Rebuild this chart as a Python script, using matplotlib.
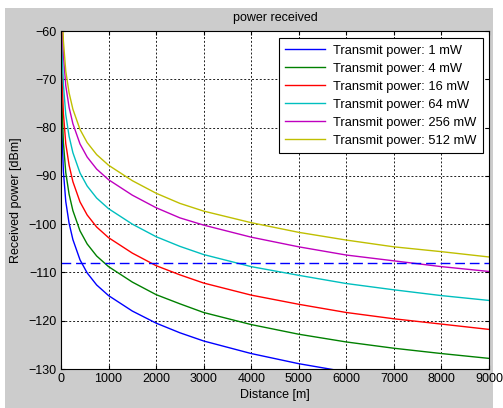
"""Received power vs distance for several transmit powers."""

import matplotlib

matplotlib.use("Agg")
import matplotlib.pyplot as plt
from matplotlib.patches import Rectangle

plt.rcParams["font.family"] = ["Liberation Sans", "DejaVu Sans"]

# distance samples [m]
distance = [10, 20, 50, 100, 170, 250, 400, 550, 750, 1000,
            1500, 2000, 2500, 3000, 4000, 5000, 6000, 7000, 8000, 9000]

# received power [dBm]
p_1mw = [-75, -81, -89, -95.3, -99.8, -103.2, -107.4, -110.1, -112.6, -114.8,
         -118.0, -120.5, -122.5, -124.2, -126.8, -128.9, -130.6, -132.0, -133.1, -134.1]
p_4mw = [-69, -75, -83, -89.3, -93.8, -97.2, -101.4, -104.1, -106.6, -108.8,
         -112.0, -114.6, -116.5, -118.3, -120.8, -122.8, -124.4, -125.7, -126.8, -127.8]
p_16mw = [-63, -69, -77, -83.3, -87.8, -91.2, -95.4, -98.1, -100.6, -102.8,
          -106.0, -108.6, -110.5, -112.2, -114.7, -116.6, -118.3, -119.6, -120.7, -121.8]
p_64mw = [-57, -63, -71, -77.3, -81.8, -85.2, -89.4, -92.1, -94.6, -96.8,
          -100.0, -102.6, -104.6, -106.3, -108.8, -110.6, -112.3, -113.6, -114.8, -115.8]
p_256mw = [-51, -57, -65, -71.3, -75.8, -79.2, -83.4, -86.1, -88.6, -90.8,
           -94.0, -96.6, -98.7, -100.2, -102.7, -104.7, -106.4, -107.6, -108.8, -109.8]
p_512mw = [-48, -54, -62, -68.3, -72.8, -76.2, -80.4, -83.1, -85.6, -87.8,
           -91.0, -93.6, -95.7, -97.3, -99.7, -101.7, -103.3, -104.7, -105.7, -106.8]

labels = ["Transmit power: 1 mW", "Transmit power: 4 mW", "Transmit power: 16 mW",
          "Transmit power: 64 mW", "Transmit power: 256 mW", "Transmit power: 512 mW"]
colors = ["#0000ff", "#008000", "#ff0000", "#00bfbf", "#bf00bf", "#bfbf00"]

sensitivity = -108  # dashed threshold [dBm]

x_ticks = [0, 1000, 2000, 3000, 4000, 5000, 6000, 7000, 8000, 9000]
y_ticks = [-130, -120, -110, -100, -90, -80, -70, -60]

W, H = 503, 408
fig = plt.figure(figsize=(W / 100, H / 100), dpi=100, facecolor="white")
fig.patches.append(Rectangle((5 / W, 0), (493 - 5) / W, (H - 8) / H,
                             transform=fig.transFigure, facecolor="#cccccc",
                             edgecolor="none", zorder=-10))

ax = fig.add_axes([61 / W, (H - 369) / H, 428 / W, 338 / H])
ax.set_facecolor("white")

series = [p_1mw, p_4mw, p_16mw, p_64mw, p_256mw, p_512mw]
for vals, col, lab in zip(series, colors, labels):
    ax.plot(distance, vals, color=col, linewidth=1.0, label=lab)

ax.plot([0, 9000], [sensitivity, sensitivity], color="#0000ff", linewidth=1.0,
        linestyle=(0, (7, 3.5)))

ax.set_xlim(0, 9000)
ax.set_ylim(-130, -60)
ax.set_xticks(x_ticks)
ax.set_yticks(y_ticks)
ax.tick_params(direction="in", length=3, top=True, right=True, labelsize=9,
               colors="black", pad=3)
ax.grid(True, color="#202020", linestyle=(0, (2, 2)), linewidth=0.7)
for sp in ax.spines.values():
    sp.set_linewidth(0.8)

ax.set_title("power received", fontsize=9, pad=7)
ax.set_xlabel("Distance [m]", fontsize=9, labelpad=3)
ax.set_ylabel("Received power [dBm]", fontsize=9, labelpad=5)

leg = ax.legend(loc="upper right", bbox_to_anchor=(0.986, 0.979), borderaxespad=0,
                fontsize=9.3, handlelength=3.1, labelspacing=0.46, fancybox=False,
                framealpha=1, edgecolor="black", borderpad=0.5, handletextpad=0.6)
leg.get_frame().set_linewidth(0.8)

fig.savefig("out.png", dpi=100, facecolor=fig.get_facecolor())
